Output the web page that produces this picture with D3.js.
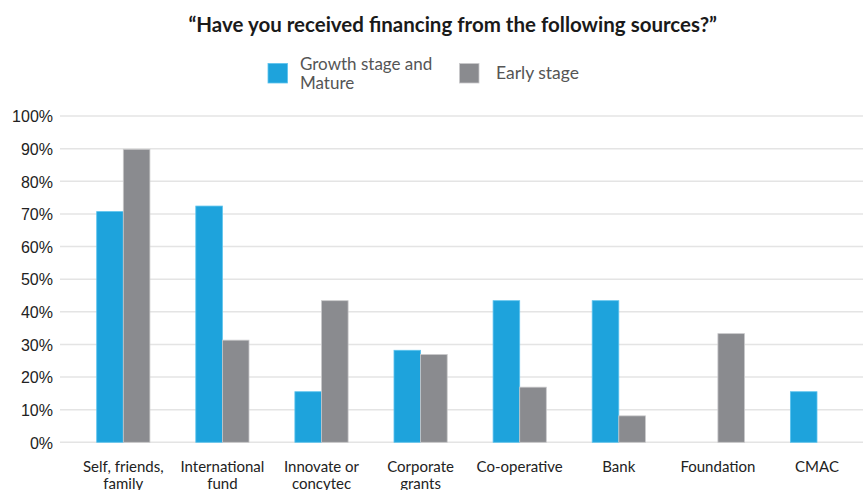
<!DOCTYPE html>
<html>
<head>
<meta charset="utf-8">
<script src="https://cdn.jsdelivr.net/npm/d3@7"></script>
<style>
  html, body { margin: 0; padding: 0; background: #fff; overflow: hidden; }
  svg { display: block; font-family: Lato, "Open Sans", sans-serif; }
</style>
</head>
<body>
<svg id="chart" width="863" height="490"></svg>
<script>
// Survey answers: share of firms that received financing from each source
const categories = [
  ["Self, friends,", "family"],
  ["International", "fund"],
  ["Innovate or", "concytec"],
  ["Corporate", "grants"],
  ["Co-operative"],
  ["Bank"],
  ["Foundation"],
  ["CMAC"]
];
const seriesNames = ["Growth stage and Mature", "Early stage"];
const growthMature = [70.7, 72.4, 15.5, 28.2, 43.4, 43.4, 0, 15.5];
const earlyStage   = [89.8, 31.3, 43.4, 26.9, 16.9, 8.1, 33.3, 0];
const yTicks = [0, 10, 20, 30, 40, 50, 60, 70, 80, 90, 100];

const colors = ["#1ea3dc", "#8a8b8f"];
const strokes = ["#5cc3ee", "#c9c9cb"];

const svg = d3.select("#chart");
const W = 863;

const y = d3.scaleLinear().domain([0, 100]).range([442.3, 116]);
const x0 = d3.scaleBand()
  .domain(d3.range(categories.length))
  .range([73.75, 866.55])
  .paddingInner(0.463)
  .paddingOuter(0.2315);
const x1 = d3.scaleBand().domain([0, 1]).range([0, x0.bandwidth()]);

// Y axis labels
const yAxis = d3.axisLeft(y).tickValues(yTicks).tickSize(0).tickPadding(0)
  .tickFormat(d => d + "%");
const gAxis = svg.append("g").attr("transform", "translate(53,0)").call(yAxis);
gAxis.select(".domain").remove();
gAxis.selectAll("text")
  .attr("fill", "#222")
  .attr("font-size", "16px")
  .attr("dy", "0.36em");

// Gridlines
svg.append("g").selectAll("line").data(yTicks).join("line")
  .attr("x1", 60).attr("x2", W)
  .attr("y1", d => y(d)).attr("y2", d => y(d))
  .attr("stroke", "#e4e4e4").attr("stroke-width", 1.5);

// Bars
const rows = categories.map((c, i) => [growthMature[i], earlyStage[i]]);
const groups = svg.append("g").selectAll("g").data(rows).join("g")
  .attr("transform", (d, i) => `translate(${x0(i)},0)`);
groups.selectAll("rect")
  .data(d => d.map((v, s) => ({ v, s })).filter(o => o.v > 0))
  .join("rect")
  .attr("x", d => x1(d.s))
  .attr("width", x1.bandwidth())
  .attr("y", d => y(d.v))
  .attr("height", d => y(0) - y(d.v))
  .attr("fill", d => colors[d.s])
  .attr("stroke", d => strokes[d.s])
  .attr("stroke-width", 0.8);

// Category labels
const lab = svg.append("g").selectAll("text").data(categories).join("text")
  .attr("text-anchor", "middle")
  .attr("font-size", "15px")
  .attr("fill", "#222")
  .attr("x", (d, i) => x0(i) + x0.bandwidth() / 2)
  .attr("y", 472);
lab.selectAll("tspan").data(d => d).join("tspan")
  .attr("x", function () { return d3.select(this.parentNode).attr("x"); })
  .attr("dy", (d, i) => i === 0 ? 0 : 17)
  .text(d => d);

// Title
svg.append("text")
  .attr("x", 452.7).attr("y", 32)
  .attr("text-anchor", "middle")
  .attr("font-size", "20.5px")
  .attr("font-weight", "bold")
  .attr("fill", "#1a1a1a")
  .text("\u201CHave you received financing from the following sources?\u201D");

// Legend
const legend = svg.append("g");
legend.append("rect").attr("x", 268).attr("y", 63.5).attr("width", 19.5).attr("height", 19.5)
  .attr("fill", colors[0]).attr("stroke", strokes[0]).attr("stroke-width", 0.8);
legend.append("text").attr("x", 300).attr("y", 69.5)
  .attr("font-size", "17px").attr("fill", "#555")
  .selectAll("tspan").data(["Growth stage and", "Mature"]).join("tspan")
  .attr("x", 300).attr("dy", (d, i) => i === 0 ? 0 : 19).text(d => d);
legend.append("rect").attr("x", 459.5).attr("y", 63.5).attr("width", 19.5).attr("height", 19.5)
  .attr("fill", colors[1]).attr("stroke", strokes[1]).attr("stroke-width", 0.8);
legend.append("text").attr("x", 496).attr("y", 79)
  .attr("font-size", "17.5px").attr("fill", "#555")
  .text(seriesNames[1]);
</script>
</body>
</html>
